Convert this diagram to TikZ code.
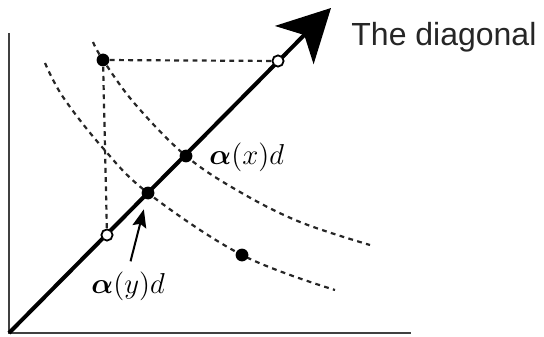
\documentclass[tikz,border=0pt]{standalone}
\usepackage{amsmath}
\usepackage{fontspec}
\usetikzlibrary{arrows.meta}
\newfontfamily\diagfont{Liberation Sans}
\tikzset{
  axisline/.style={line width=1.1pt, black!75},
  diagline/.style={line width=2pt, -{Stealth[length=26pt, width=27pt, inset=7pt]}},
  guide/.style={line width=1.1pt, dash pattern=on 2.4pt off 2.2pt, black!85},
  curve/.style={guide, smooth, tension=0.6},
  fulldot/.style={circle, fill=black, inner sep=0pt, minimum size=6.4pt},
  opendot/.style={circle, draw=black, line width=0.9pt, fill=white, inner sep=0pt, minimum size=5.6pt},
  lbl/.style={inner sep=0pt, font=\fontsize{14}{17}\selectfont},
  pointer/.style={line width=1pt, -{Stealth[length=9pt, width=7pt, inset=1.5pt]}},
  title/.style={inner sep=0pt, font=\diagfont\fontsize{16}{19}\selectfont, text=black!85}
}
\begin{document}
\begin{tikzpicture}[x=0.5pt, y=-0.5pt]
  \useasboundingbox (0,0) rectangle (544,336);
  % axes
  \coordinate (o) at (9,333);
  \coordinate (ytop) at (9,33);
  \coordinate (xend) at (411,333);
  \coordinate (tip) at (331,8);
  \draw[axisline] (ytop) -- (o) -- (xend);
  % indifference curves
  \draw[curve] plot coordinates {(93,42) (103,60) (135,104) (186,156) (240,192) (300,222) (370,245)};
  \draw[curve] plot coordinates {(45,63) (63,97) (102,147) (148,193) (242,255) (335,290)};
  % the diagonal
  \draw[diagline] (o) -- (tip);
  \node[title, anchor=base west] (diag) at (351,46) {The diagonal};
  % points
  \node[fulldot] (x) at (103,60) {};
  \node[fulldot] (y) at (242,255) {};
  \node[fulldot] (dx) at (186,156) {};
  \node[fulldot] (dy) at (148,193) {};
  \node[opendot] (px) at (278,61) {};
  \node[opendot] (py) at (107,235) {};
  \draw[guide] (x) -- (px);
  \draw[guide] (x) -- (py);
  % labels
  \node[lbl, anchor=base west] (xlbl) at (209,164) {$\boldsymbol{\alpha}(x)d$};
  \node[lbl, anchor=base west] (ylbl) at (91,293) {$\boldsymbol{\alpha}(y)d$};
  \draw[pointer, shorten <=5pt, shorten >=5pt] (ylbl.north) -- (dy);
\end{tikzpicture}
\end{document}
